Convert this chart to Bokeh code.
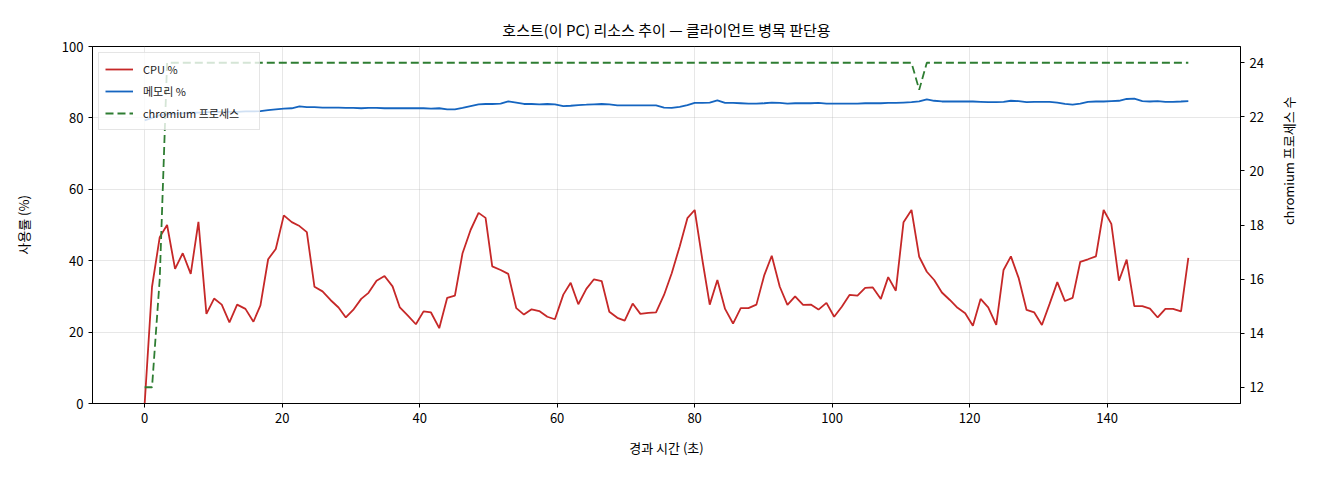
import math

from bokeh.plotting import figure
from bokeh.models import Range1d, LinearAxis, Legend, LegendItem, SingleIntervalTicker
from bokeh.embed import file_html
from bokeh.resources import INLINE

# elapsed seconds of each sample
elapsed = [
    0.0, 1.07, 2.19, 3.26, 4.42, 5.54, 6.70, 7.82, 8.98, 10.10,
    11.21, 12.33, 13.45, 14.66, 15.82, 16.84, 17.96, 19.07, 20.24, 21.40,
    22.52, 23.59, 24.70, 25.87, 27.03, 28.20, 29.26, 30.33, 31.50, 32.56,
    33.73, 34.89, 36.06, 37.12, 38.29, 39.45, 40.57, 41.65, 42.85, 44.01,
    45.13, 46.24, 47.41, 48.57, 49.59, 50.56, 51.78, 52.89, 54.06, 55.17,
    56.29, 57.40, 58.57, 59.68, 60.90, 61.97, 63.08, 64.25, 65.36, 66.48,
    67.59, 68.76, 69.83, 70.99, 72.11, 73.27, 74.39, 75.55, 76.67, 77.83,
    78.95, 80.01, 81.13, 82.20, 83.31, 84.43, 85.59, 86.71, 87.83, 88.99,
    90.11, 91.22, 92.39, 93.50, 94.62, 95.78, 96.90, 98.02, 99.18, 100.30,
    101.41, 102.53, 103.69, 104.81, 105.92, 107.09, 108.16, 109.27, 110.39, 111.55,
    112.67, 113.78, 114.85, 115.97, 117.13, 118.25, 119.36, 120.48, 121.60, 122.71,
    123.88, 124.94, 126.01, 127.13, 128.29, 129.41, 130.52, 131.64, 132.76, 133.87,
    134.99, 136.10, 137.22, 138.38, 139.50, 140.62, 141.73, 142.85, 143.96, 145.13,
    146.24, 147.36, 148.48, 149.59, 150.76, 151.82,
]

cpu_pct = [
    0.0, 32.7, 46.6, 50.0, 37.7, 42.1, 36.3, 50.9, 25.1, 29.4,
    27.7, 22.7, 27.7, 26.5, 22.9, 27.5, 40.4, 43.3, 52.7, 50.8,
    49.7, 48.0, 32.7, 31.4, 29.0, 26.9, 24.1, 26.2, 29.3, 31.0,
    34.4, 35.7, 32.8, 26.9, 24.6, 22.2, 25.8, 25.5, 21.1, 29.6,
    30.2, 42.1, 48.6, 53.4, 52.0, 38.4, 37.4, 36.3, 26.7, 24.9,
    26.4, 25.9, 24.3, 23.6, 30.5, 33.8, 27.8, 32.1, 34.8, 34.3,
    25.7, 24.0, 23.2, 28.0, 25.1, 25.4, 25.5, 30.4, 36.5, 44.0,
    51.9, 54.2, 40.2, 27.7, 34.6, 26.5, 22.4, 26.7, 26.7, 27.7,
    35.8, 41.4, 32.7, 27.6, 30.0, 27.6, 27.7, 26.3, 28.2, 24.3,
    27.1, 30.4, 30.2, 32.4, 32.5, 29.3, 35.4, 31.6, 50.8, 54.2,
    41.1, 36.9, 34.6, 31.1, 29.0, 26.8, 25.3, 21.8, 29.3, 26.9,
    22.0, 37.4, 41.2, 35.2, 26.2, 25.5, 22.0, 27.9, 34.0, 28.7,
    29.6, 39.7, 40.4, 41.2, 54.2, 50.3, 34.4, 40.3, 27.3, 27.3,
    26.6, 24.1, 26.5, 26.5, 25.8, 40.8,
]

mem_pct = [
    79.3, 80.0, 80.8, 81.0, 81.2, 81.3, 81.5, 81.5, 81.6, 81.6,
    81.7, 81.7, 81.7, 81.8, 81.8, 81.9, 82.2, 82.4, 82.6, 82.7,
    83.2, 83.0, 83.0, 82.9, 82.9, 82.9, 82.8, 82.8, 82.7, 82.8,
    82.8, 82.7, 82.7, 82.7, 82.7, 82.7, 82.7, 82.6, 82.7, 82.4,
    82.4, 82.8, 83.3, 83.8, 83.9, 83.9, 84.0, 84.6, 84.3, 83.9,
    83.9, 83.8, 83.9, 83.8, 83.3, 83.4, 83.6, 83.7, 83.8, 83.9,
    83.8, 83.5, 83.5, 83.5, 83.5, 83.5, 83.5, 82.9, 82.8, 83.1,
    83.6, 84.2, 84.2, 84.3, 84.9, 84.2, 84.2, 84.1, 84.0, 84.0,
    84.1, 84.3, 84.2, 84.0, 84.1, 84.1, 84.1, 84.2, 84.0, 84.0,
    84.0, 84.0, 84.0, 84.1, 84.1, 84.1, 84.2, 84.2, 84.3, 84.4,
    84.6, 85.2, 84.8, 84.6, 84.6, 84.6, 84.6, 84.6, 84.5, 84.4,
    84.4, 84.5, 84.8, 84.7, 84.4, 84.5, 84.5, 84.5, 84.3, 83.9,
    83.7, 84.0, 84.5, 84.6, 84.6, 84.7, 84.8, 85.3, 85.4, 84.7,
    84.6, 84.7, 84.5, 84.5, 84.6, 84.7,
]

chromium_procs = [12, 12, 16] + [24] * 97 + [23] + [24] * 35

FONT = "Noto Sans CJK KR"

p = figure(
    width=1320,
    height=480,
    x_range=Range1d(-7.59, 159.41),
    y_range=Range1d(0, 100),
    title="호스트(이 PC) 리소스 추이 — 클라이언트 병목 판단용",
    x_axis_label="경과 시간 (초)",
    y_axis_label="사용률 (%)",
    output_backend="svg",
    toolbar_location=None,
    min_border_left=92,
    min_border_right=80,
    min_border_top=46,
    min_border_bottom=77,
)
p.extra_y_ranges = {"procs": Range1d(11.4, 24.6)}

p.title.align = "center"
p.title.text_font = FONT
p.title.text_font_size = "15px"
p.title.text_font_style = "normal"
p.title.text_color = "#000000"
p.title.standoff = 14

r_cpu = p.line(elapsed, cpu_pct, line_color="#c62828", line_width=1.8)
r_mem = p.line(elapsed, mem_pct, line_color="#1565c0", line_width=1.8)
r_proc = p.line(elapsed, chromium_procs, y_range_name="procs",
                line_color="#2e7d32", line_width=1.8, line_dash="8 4")
r_proc.level = "overlay"

right_axis = LinearAxis(y_range_name="procs", axis_label="chromium 프로세스 수",
                        ticker=SingleIntervalTicker(interval=2))
right_axis.axis_label_orientation = math.pi / 2
p.add_layout(right_axis, "right")

p.xaxis.ticker = SingleIntervalTicker(interval=20)
p.yaxis[0].ticker = SingleIntervalTicker(interval=20)

for ax in p.axis:
    ax.major_label_text_font = FONT
    ax.major_label_text_font_size = "13px"
    ax.major_label_text_color = "#000000"
    ax.axis_label_text_font = FONT
    ax.axis_label_text_font_size = "13px"
    ax.axis_label_text_font_style = "normal"
    ax.axis_label_text_color = "#000000"
    ax.axis_line_color = "#000000"
    ax.major_tick_line_color = "#000000"
    ax.major_tick_in = 0
    ax.major_tick_out = 4
    ax.minor_tick_line_color = None
    ax.major_label_standoff = 5

p.xaxis.axis_label_standoff = 12
p.yaxis[0].axis_label_standoff = 26
right_axis.axis_label_standoff = 22

p.grid.grid_line_color = "#b0b0b0"
p.grid.grid_line_alpha = 0.3
p.outline_line_color = "#000000"
p.outline_line_alpha = 1.0

legend = Legend(
    items=[
        LegendItem(label="CPU %", renderers=[r_cpu]),
        LegendItem(label="메모리 %", renderers=[r_mem]),
        LegendItem(label="chromium 프로세스", renderers=[r_proc]),
    ],
    location="top_left",
    margin=6,
    padding=6,
    spacing=2,
    glyph_width=28,
    label_standoff=10,
    label_width=110,
    label_text_font=FONT,
    label_text_font_size="11px",
    label_text_color="#222222",
    border_line_color="#cccccc",
    background_fill_alpha=0.8,
)
p.add_layout(legend)

open("out.html", "w").write(file_html(p, INLINE))
